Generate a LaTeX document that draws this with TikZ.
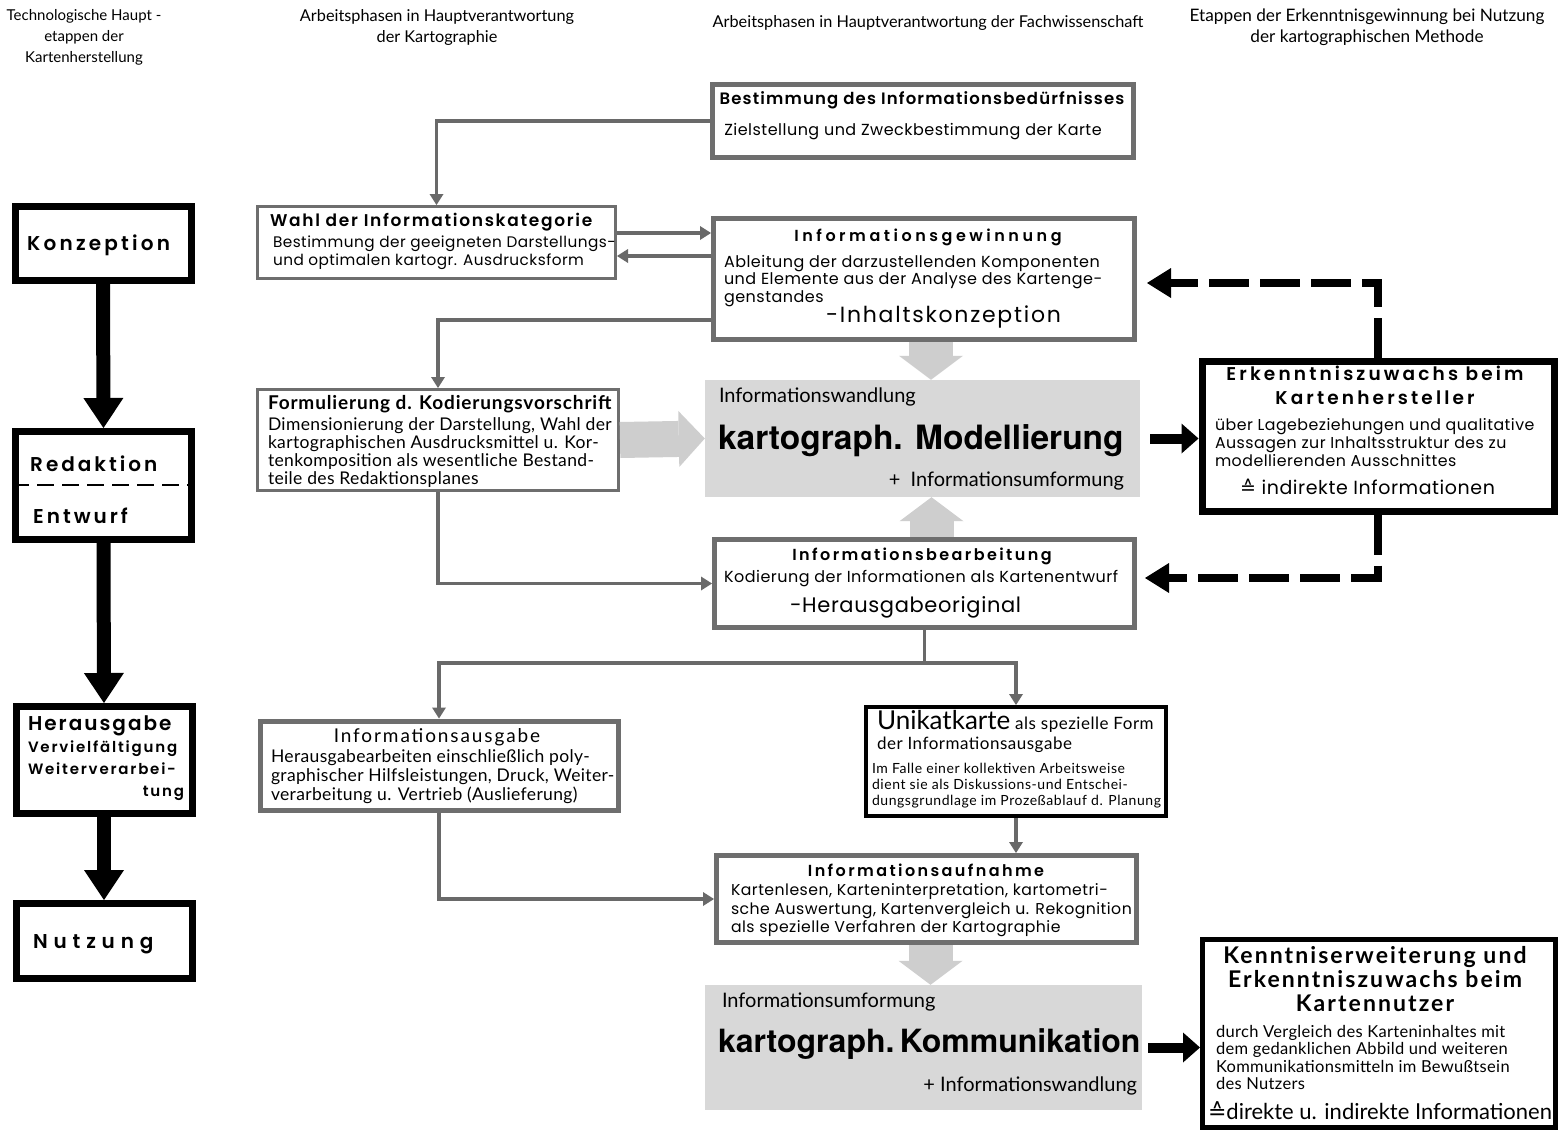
\documentclass[tikz,border=0pt]{standalone}
\usepackage{fontspec}
\setmainfont{Poppins}
\newfontfamily\headf[LetterSpace=9, BoldFont={Poppins SemiBold}]{Poppins}
\newfontfamily\bodyf[LetterSpace=3]{Poppins}
\newfontfamily\condf[LetterSpace=2]{Lato}
\newfontfamily\dinf[LetterSpace=2]{Lato}
\newfontfamily\helvf{TeX Gyre Heros}
\newfontfamily\symf{DejaVu Sans}
\usetikzlibrary{arrows.meta,positioning}
\definecolor{framegray}{RGB}{110,110,110}
\definecolor{linegray}{RGB}{105,105,105}
\definecolor{fillgray}{RGB}{216,216,216}
\definecolor{arrowgray}{RGB}{206,206,206}
\newcommand{\fs}[2]{\fontsize{#1}{#2}\selectfont}
\newcommand{\ls}[1]{\addfontfeatures{LetterSpace=#1}}
\newcommand{\entspr}{{\symf ≙}}

\begin{document}
\begin{tikzpicture}[x=1pt, y=-1pt,
    stagebox/.style={draw=black, line width=7pt, fill=white, inner sep=0pt, minimum width=176pt},
    graybox/.style={draw=framegray, line width=5pt, fill=white, inner sep=0pt},
    thinbox/.style={draw=framegray, line width=3pt, fill=white, inner sep=0pt},
    inkbox/.style={draw=black, line width=#1, fill=white, inner sep=0pt},
    shadebox/.style={fill=fillgray, inner sep=0pt},
    txt/.style={inner sep=0pt, outer sep=0pt, anchor=north west, align=left},
    ctxt/.style={inner sep=0pt, outer sep=0pt, anchor=north, align=center},
    headtxt/.style={ctxt, font=\condf\ls{0}\fs{#1}{21}},
    stagetxt/.style={inner sep=0pt, anchor=base west, font=\headf\bfseries\ls{#1}\fs{20}{24}},
    link/.style={draw=linegray, line width=3.5pt, -{Triangle[width=14pt,length=11pt,line width=0pt]}},
    stagelink/.style={draw=black, line width=14pt, -{Triangle[width=40pt,length=30pt,line width=0pt]}},
    fatlink/.style={draw=black, line width=10pt, -{Triangle[width=30pt,length=17pt,line width=0pt]}},
    feedback/.style={draw=black, line width=7.5pt, dash pattern=on 40pt off 11pt, -{Triangle[width=30pt,length=24pt,line width=0pt]}},
    blockh/.style={draw=arrowgray, line width=36pt, -{Triangle[width=56pt,length=26pt,line width=0pt]}},
    blockv/.style={draw=arrowgray, line width=44pt, -{Triangle[width=64pt,length=24pt,line width=0pt]}}]

\path[use as bounding box, fill=white] (0,0) rectangle (1561,1132);

% column heads
\node[headtxt=15] (hd-tech) at (84,9) {Technologische Haupt -\\etappen der\\Kartenherstellung};
\node[headtxt=16.3] (hd-karto) at (437,9) {Arbeitsphasen in Hauptverantwortung\\der Kartographie};
\node[headtxt=16.3] (hd-fach) at (928,15) {Arbeitsphasen in Hauptverantwortung der Fachwissenschaft};
\node[headtxt=17.2] (hd-erk) at (1367,9) {Etappen der Erkenntnisgewinnung bei Nutzung\\der kartographischen Methode};

% main stages of map production
\node[stagebox, minimum height=74pt] (konz) at (103,243) {};
\node[stagebox, minimum height=108pt] (redakt) at (103.5,485.5) {};
\node[stagebox, minimum height=107pt] (herausg) at (104,760) {};
\node[stagebox, minimum height=75pt] (nutz) at (104,941) {};
\node[stagetxt=16] (konz-t) at (27,250) {Konzeption};
\node[stagetxt=15] (redakt-t) at (30,471) {Redaktion};
\node[stagetxt=15] (entw-t) at (33,523) {Entwurf};
\node[stagetxt=29] (nutz-t) at (33,948) {Nutzung};
\coordinate (redline) at (0,485);
\draw[line width=2.5pt, dash pattern=on 17pt off 8pt] (redakt.west |- redline) -- (redakt.east |- redline);
\node[txt, text width=156pt, font=\headf\bfseries\ls{12}\fs{15}{22}] (herausg-t) at (28,716)
    {{\ls{10}\fs{20}{22}Herausgabe}\\Vervielfältigung\\Weiterverarbei-\\\hspace*{\fill}tung};
\draw[stagelink] (konz.south) -- (redakt.north);
\draw[stagelink] (redakt.south) -- (herausg.north);
\draw[stagelink] (herausg.south) -- (nutz.north);

% working phases
\node[graybox, minimum width=421pt, minimum height=73pt] (bestimm) at (923,121) {};
\node[ctxt, font=\headf\bfseries\ls{7}\fs{16.5}{21}] (bestimm-h) at (922,92) {Bestimmung des Informationsbedürfnisses};
\node[ctxt, font=\bodyf\fs{16}{19}] (bestimm-b) at (913,123) {Zielstellung und Zweckbestimmung der Karte};

\node[thinbox, minimum width=358pt, minimum height=72pt] (wahl) at (436.5,242.5) {};
\node[txt, font=\headf\bfseries\ls{10}\fs{17}{20}] (wahl-h) at (270,213) {Wahl der Informationskategorie};
\node[txt, font=\bodyf\fs{15.3}{18}] (wahl-b) at (273,236) {Bestimmung der geeigneten Darstellungs-\\und optimalen kartogr. Ausdrucksform};

\node[graybox, minimum width=421pt, minimum height=121pt] (gewinn) at (924,279) {};
\node[ctxt, font=\headf\bfseries\ls{22}\fs{16}{20}] (gewinn-h) at (928,229) {Informationsgewinnung};
\node[txt, font=\bodyf\fs{16}{17.5}] (gewinn-b) at (724,255) {Ableitung der darzustellenden Komponenten\\und Elemente aus der Analyse des Kartenge-\\genstandes};
\node[txt, font=\bodyf\ls{8}\fs{22}{24}] (gewinn-x) at (826,306) {-Inhaltskonzeption};

\node[thinbox, minimum width=361pt, minimum height=101pt] (formul) at (438,440) {};
\node[txt, font=\dinf\bfseries\ls{4.5}\fs{19}{22}] (formul-h) at (268,395) {Formulierung d. Kodierungsvorschrift};
\node[txt, font=\condf\fs{17.5}{18}] (formul-b) at (268,418) {Dimensionierung der Darstellung, Wahl der\\kartographischen Ausdrucksmittel u. Kor-\\tenkomposition als wesentliche Bestand-\\teile des Redaktionsplanes};

\node[shadebox, minimum width=435pt, minimum height=117pt] (modell) at (922.5,438.5) {};
\node[txt, font=\condf\ls{0}\fs{20}{24}] (modell-a) at (719,388) {Informationswandlung};
\node[txt, font=\helvf\bfseries\fs{33.5}{36}] (modell-h) at (718,425) {kartograph. Modellierung};
\node[txt, anchor=north east, font=\condf\ls{0}\fs{20}{24}] (modell-b) at (1124,472) {+\ \ Informationsumformung};

\node[graybox, minimum width=420pt, minimum height=88pt] (bearb) at (924.5,583.5) {};
\node[ctxt, font=\headf\bfseries\ls{15}\fs{16}{20}] (bearb-h) at (922,548) {Informationsbearbeitung};
\node[txt, font=\bodyf\fs{16}{18}] (bearb-b) at (724,570) {Kodierung der Informationen als Kartenentwurf};
\node[txt, font=\bodyf\fs{21}{24}] (bearb-x) at (790,597) {-Herausgabeoriginal};

\node[graybox, minimum width=358pt, minimum height=89pt] (ausgabe) at (439,765.5) {};
\node[ctxt, font=\dinf\ls{10}\fs{19}{22}] (ausgabe-h) at (437,728) {Informationsausgabe};
\node[txt, font=\condf\fs{17.5}{19}] (ausgabe-b) at (271,750) {Herausgabearbeiten einschließlich poly-\\graphischer Hilfsleistungen, Druck, Weiter-\\verarbeitung u. Vertrieb (Auslieferung)};

\node[inkbox=4pt, minimum width=300pt, minimum height=109pt] (unikat) at (1016,761.5) {};
\node[txt, font=\condf\ls{3}\fs{17}{20}] (unikat-h) at (877,710) {{\ls{0}\fs{26}{24}Unikatkarte} als spezielle Form\\der Informationsausgabe};
\node[txt, font=\condf\ls{4}\fs{14}{16}] (unikat-b) at (872,763) {Im Falle einer kollektiven Arbeitsweise\\dient sie als Diskussions-und Entschei-\\dungsgrundlage im Prozeßablauf d. Planung};

\node[graybox, minimum width=420pt, minimum height=87pt] (aufnahme) at (926.5,899) {};
\node[ctxt, font=\headf\bfseries\ls{15}\fs{16}{20}] (aufnahme-h) at (926,864) {Informationsaufnahme};
\node[txt, font=\bodyf\fs{15.7}{18.5}] (aufnahme-b) at (731,884) {Kartenlesen, Karteninterpretation, kartometri-\\sche Auswertung, Kartenvergleich u. Rekognition\\als spezielle Verfahren der Kartographie};

\node[shadebox, minimum width=437pt, minimum height=125pt] (kommun) at (923.5,1047.5) {};
\node[txt, font=\condf\ls{0}\fs{20}{24}] (kommun-a) at (722,993) {Informationsumformung};
\node[txt, font=\helvf\bfseries\fs{32}{36}] (kommun-h) at (718,1029) {kartograph.\,Kommunikation};
\node[txt, anchor=north east, font=\condf\ls{0}\fs{20}{24}] (kommun-b) at (1137,1077) {+ Informationswandlung};

% gain of knowledge
\node[inkbox=7pt, minimum width=352pt, minimum height=150pt] (erkennt) at (1378,436) {};
\node[ctxt, font=\headf\bfseries\ls{17}\fs{18.5}{24}] (erkennt-h) at (1375,366) {Erkenntniszuwachs beim\\Kartenhersteller};
\node[txt, font=\bodyf\fs{15.8}{18}] (erkennt-b) at (1215,418) {über Lagebeziehungen und qualitative\\Aussagen zur Inhaltsstruktur des zu\\modellierenden Ausschnittes};
\node[txt, font=\bodyf\fs{19}{22}] (erkennt-x) at (1240,479) {\entspr\ indirekte Informationen};

\node[inkbox=5pt, minimum width=353pt, minimum height=188pt] (kenntn) at (1379,1033.5) {};
\node[ctxt, font=\dinf\bfseries\ls{9}\fs{23}{24}] (kenntn-h) at (1375,946) {Kenntniserweiterung und\\Erkenntniszuwachs beim\\Kartennutzer};
\node[txt, font=\condf\fs{16.5}{17.5}] (kenntn-b) at (1216,1025) {durch Vergleich des Karteninhaltes mit\\dem gedanklichen Abbild und weiteren\\Kommunikationsmitteln im Bewußtsein\\des Nutzers};
\node[txt, font=\condf\ls{0}\fs{22}{24}] (kenntn-x) at (1208,1102) {\entspr direkte u. indirekte Informationen};

% connectors
\coordinate (wahl-out) at ([yshift=9.5pt]wahl.east);
\coordinate (wahl-in) at ([yshift=-13.5pt]wahl.east);
\coordinate (gew-out) at ([yshift=-41pt]gewinn.west);
\coordinate (split) at ([yshift=-33pt]bearb.south);
\draw[link] (bestimm.west) -| (wahl.north);
\draw[link] (wahl-out) -- (wahl-out -| gewinn.west);
\draw[link] (wahl-in -| gewinn.west) -- (wahl-in);
\draw[link] (gew-out) -| (formul.north);
\draw[link] (formul.south) |- (bearb.west);
\draw[link] (bearb.south) -- (split) -| (ausgabe.north);
\draw[link] (split) -| (unikat.north);
\draw[link] (ausgabe.south) |- (aufnahme.west);
\draw[link] (unikat.south) -- (unikat.south |- aufnahme.north);

% broad arrows
\draw[blockh] (formul.east) -- (modell.west);
\draw[blockv] ([xshift=7pt]gewinn.south) -- ([xshift=7pt]gewinn.south |- modell.north);
\draw[blockv] ([xshift=7pt]bearb.north) -- ([xshift=7pt]bearb.north |- modell.south);
\draw[blockv] ([xshift=4pt]aufnahme.south) -- ([xshift=4pt]aufnahme.south |- kommun.north);
\draw[fatlink] ([xshift=10pt]modell.east) -- (modell.east -| erkennt.west);
\draw[fatlink] ([xshift=6pt]kommun.east) -- (kommun.east -| kenntn.west);

% feedback to the content work
\coordinate (fb-top) at ([xshift=10pt,yshift=-4pt]gewinn.east);
\coordinate (fb-bot) at ([xshift=8pt,yshift=5.5pt]bearb.east);
\draw[feedback] (erkennt.north) |- (fb-top);
\draw[feedback] (erkennt.south) |- (fb-bot);
\end{tikzpicture}
\end{document}
